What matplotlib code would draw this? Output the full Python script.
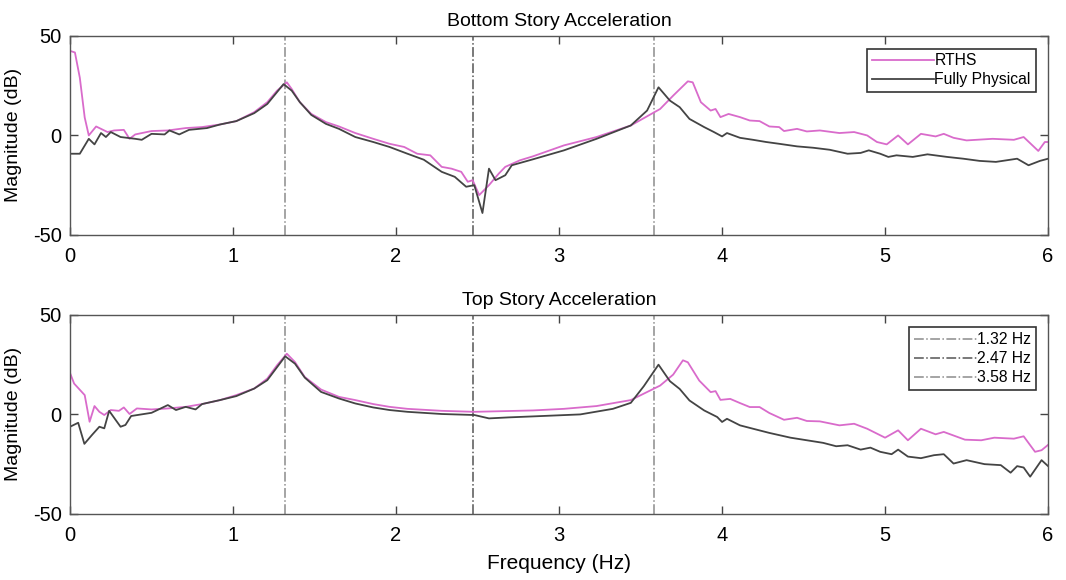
import matplotlib.pyplot as plt

plt.rcParams['font.family'] = ['Liberation Sans', 'DejaVu Sans']
plt.rcParams['axes.unicode_minus'] = False

# Bottom story acceleration
bot_rths_f = [0, 0.03, 0.06, 0.09, 0.115, 0.16, 0.19, 0.23, 0.27, 0.33, 0.365, 0.4, 0.5, 0.6,
              0.71, 0.81, 0.92, 1.02, 1.13, 1.21, 1.27, 1.33, 1.36, 1.41, 1.48, 1.57, 1.65,
              1.75, 1.86, 1.96, 2.05, 2.13, 2.21, 2.28, 2.34, 2.4, 2.44, 2.47, 2.51, 2.57,
              2.63, 2.67, 2.76, 2.84, 3.03, 3.23, 3.44, 3.62, 3.70, 3.79, 3.82, 3.87, 3.93,
              3.96, 3.99, 4.04, 4.11, 4.17, 4.23, 4.29, 4.35, 4.38, 4.46, 4.52, 4.60, 4.72,
              4.81, 4.89, 4.95, 5.01, 5.08, 5.14, 5.22, 5.31, 5.36, 5.42, 5.50, 5.66, 5.79,
              5.85, 5.94, 5.98, 6.0]
bot_rths_db = [42.5, 41.7, 29, 9, 0, 4.5, 3.3, 1.7, 2.5, 2.8, -1.7, 0.5, 2.2, 2.5,
               3.7, 4.2, 5.5, 7.2, 11.7, 16.7, 22.5, 26.7, 23.3, 16.7, 10.8, 6.7, 4.5,
               1.2, -1.7, -4.2, -5.8, -9.2, -10, -15.8, -16.7, -18.3, -23.3, -22.5, -30, -25,
               -19.2, -15.8, -12.5, -10.5, -5, -0.8, 5, 13.3, 20, 27.2, 26.7, 16.7, 12.5,
               13.3, 9.2, 10.8, 9.2, 7.5, 7.2, 4.5, 4.2, 2.2, 3.3, 2, 2.5, 1.2,
               1.7, 0, -3.3, -4.5, 0, -4.5, 0.8, -0.5, 0.8, -1.2, -2.5, -1.7, -2.2,
               -0.8, -7.8, -3.3, -3.3]

bot_phys_f = [0, 0.06, 0.115, 0.15, 0.19, 0.22, 0.25, 0.31, 0.4, 0.44, 0.5, 0.58, 0.61, 0.67,
              0.73, 0.84, 0.92, 1.02, 1.13, 1.21, 1.31, 1.36, 1.41, 1.48, 1.57, 1.65, 1.75,
              1.86, 1.96, 2.07, 2.17, 2.28, 2.36, 2.43, 2.48, 2.53, 2.57, 2.61, 2.67, 2.71,
              2.84, 3.03, 3.23, 3.44, 3.54, 3.61, 3.68, 3.74, 3.80, 3.89, 3.95, 4.0, 4.03,
              4.11, 4.19, 4.27, 4.35, 4.46, 4.56, 4.66, 4.77, 4.85, 4.90, 4.97, 5.02, 5.07,
              5.17, 5.26, 5.38, 5.48, 5.58, 5.68, 5.81, 5.88, 5.95, 6.0]
bot_phys_db = [-9.2, -9.2, -1.7, -4.5, 1.2, -0.8, 1.7, -0.8, -1.7, -2.2, 0.8, 0.5, 2.5, 0.5,
               2.8, 3.7, 5.5, 7.2, 11.2, 15.8, 25.8, 22.5, 16.7, 10.3, 5.8, 3.3, -0.8,
               -3.3, -5.8, -9.2, -12.2, -18.3, -20.8, -25.8, -25, -39, -16.7, -22.5, -20, -15,
               -12, -7.5, -1.7, 5, 12.5, 24.2, 17.5, 14.2, 8.3, 4.2, 1.7, -0.5, 1.2,
               -1.2, -2.2, -3.3, -4.2, -5.5, -6.2, -7.2, -9.2, -8.8, -7.5, -9.2, -10.8, -10,
               -10.8, -9.5, -10.8, -11.7, -12.8, -13.3, -11.7, -15, -12.8, -11.7]

# Top story acceleration
top_rths_f = [0, 0.025, 0.09, 0.12, 0.15, 0.18, 0.21, 0.25, 0.3, 0.33, 0.365, 0.41, 0.5, 0.6,
              0.71, 0.81, 0.92, 1.02, 1.13, 1.21, 1.27, 1.33, 1.38, 1.44, 1.54, 1.65, 1.75,
              1.86, 1.96, 2.07, 2.28, 2.48, 2.69, 2.84, 3.03, 3.23, 3.44, 3.62, 3.70, 3.76,
              3.79, 3.86, 3.93, 3.96, 3.99, 4.05, 4.11, 4.17, 4.23, 4.29, 4.38, 4.46, 4.52,
              4.60, 4.72, 4.81, 4.89, 5.0, 5.08, 5.14, 5.22, 5.31, 5.36, 5.49, 5.59, 5.67,
              5.79, 5.85, 5.92, 5.96, 6.0]
top_rths_db = [20.8, 15.5, 9.7, -3.7, 4.2, 1.3, -0.3, 2.2, 1.8, 3.5, 0.2, 3, 2.5, 3,
               3.8, 5.2, 7.2, 9.7, 13, 18, 24.7, 30.5, 26.3, 18.8, 12.5, 8.8, 7.2,
               5.2, 3.8, 2.8, 1.8, 1.3, 1.7, 2, 2.8, 4.2, 7.2, 14.5, 20, 27.2,
               26.2, 17, 11.2, 11.7, 7.3, 7.8, 5.7, 3.7, 3.7, 0.7, -2.7, -1.7, -3.3,
               -3.5, -5.5, -4.7, -7.2, -11.7, -8, -13, -7.2, -10, -8.8, -12.7, -13, -11.7,
               -12.2, -11, -18.8, -18, -15.3]

top_phys_f = [0, 0.05, 0.088, 0.135, 0.18, 0.21, 0.24, 0.28, 0.31, 0.34, 0.375, 0.5, 0.6, 0.65,
              0.71, 0.77, 0.81, 0.92, 1.02, 1.13, 1.21, 1.32, 1.38, 1.44, 1.54, 1.65, 1.75,
              1.86, 1.96, 2.07, 2.28, 2.48, 2.57, 2.69, 2.84, 3.13, 3.33, 3.44, 3.52, 3.61,
              3.68, 3.74, 3.80, 3.89, 3.97, 4.0, 4.03, 4.11, 4.19, 4.29, 4.42, 4.52, 4.62,
              4.70, 4.77, 4.85, 4.91, 4.97, 5.04, 5.08, 5.14, 5.22, 5.30, 5.36, 5.42, 5.50,
              5.61, 5.71, 5.77, 5.81, 5.85, 5.89, 5.96, 6.0]
top_phys_db = [-6.2, -4.2, -14.8, -10.3, -6.2, -7, 1.8, -2.8, -6.2, -5.3, -0.8, 0.8, 4.7, 2.2,
               3.8, 2.5, 5.2, 7.2, 9.2, 13, 17.2, 29.2, 25.5, 18.5, 11.3, 8, 5.5,
               3.5, 2.2, 1.3, 0.2, -0.3, -2, -1.5, -1, 0, 2.8, 5.8, 14.2, 25,
               16.7, 12.8, 7, 2, -1.3, -3.8, -2.2, -5.5, -7.2, -9.3, -11.7, -13, -14.3,
               -16, -15.5, -17.7, -16.7, -18.8, -20, -17.7, -21.2, -22, -20.5, -20, -24.7, -23,
               -25, -25.5, -29.3, -26, -26.7, -31.3, -23, -26]

modes = [1.32, 2.47, 3.58]
mode_labels = ['1.32 Hz', '2.47 Hz', '3.58 Hz']
mode_colors = ['#8c8c8c', '#555555', '#8c8c8c']

rths_color = '#d96bcb'
phys_color = '#444444'

fig = plt.figure(figsize=(10.66, 5.80), dpi=100)
ax1 = fig.add_axes([0.0657, 0.595, 0.9175, 0.343])
ax2 = fig.add_axes([0.0657, 0.114, 0.9175, 0.343])

panels = [
    (ax1, 'Bottom Story Acceleration', bot_rths_f, bot_rths_db, bot_phys_f, bot_phys_db),
    (ax2, 'Top Story Acceleration', top_rths_f, top_rths_db, top_phys_f, top_phys_db),
]

for ax, title, rf, rdb, pf, pdb in panels:
    for m, lab, c in zip(modes, mode_labels, mode_colors):
        ax.axvline(m, color=c, linestyle='-.', linewidth=1.1,
                   label=lab if ax is ax2 else None)
    ax.plot(rf, rdb, color=rths_color, linewidth=1.3,
            label='RTHS' if ax is ax1 else None)
    ax.plot(pf, pdb, color=phys_color, linewidth=1.3,
            label='Fully Physical' if ax is ax1 else None)
    ax.set_xlim(0, 6)
    ax.set_ylim(-50, 50)
    ax.set_xticks([0, 1, 2, 3, 4, 5, 6])
    ax.set_yticks([-50, 0, 50])
    ax.tick_params(direction='in', length=6, width=1, top=True, right=True,
                   labelsize=14.5, color='#444444')
    ax.tick_params(axis='x', pad=9)
    ax.tick_params(axis='y', pad=6)
    for s in ax.spines.values():
        s.set_color('#555555')
        s.set_linewidth(1)
    ax.set_title(title, fontsize=14, pad=7)
    ax.set_ylabel('Magnitude (dB)', fontsize=14)
    ax.yaxis.set_label_coords(-0.049, 0.5)
    leg = ax.legend(loc='upper right', fontsize=11.3, fancybox=False, framealpha=1,
                    edgecolor='#333333', handlelength=4.0, handletextpad=0.0,
                    borderpad=0.3, labelspacing=0.25, borderaxespad=0.8)
    leg.get_frame().set_linewidth(1.2)

ax2.set_xlabel('Frequency (Hz)', fontsize=15)
ax2.xaxis.set_label_coords(0.5, -0.2)

fig.savefig('out.png', dpi=100)
